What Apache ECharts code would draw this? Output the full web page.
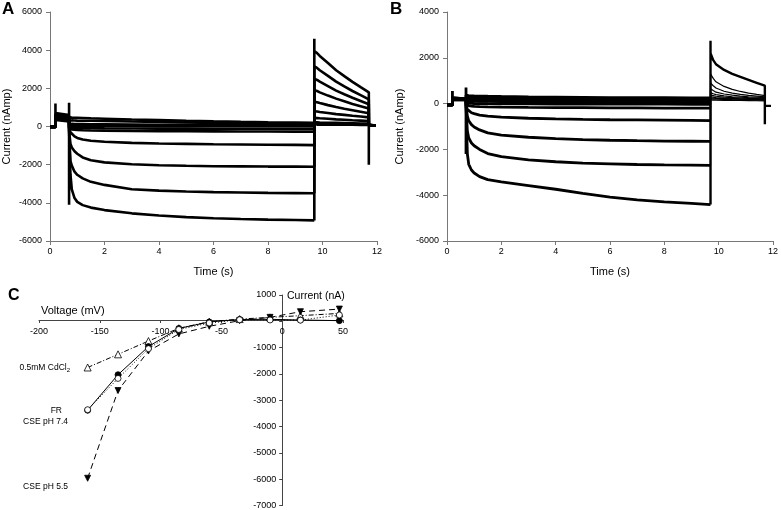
<!DOCTYPE html>
<html><head><meta charset="utf-8">
<script src="https://cdn.jsdelivr.net/npm/echarts@6/dist/echarts.min.js"></script>
<style>html,body{margin:0;padding:0;background:#fff}#c{width:781px;height:510px}</style>
</head><body><div id="c"></div>
<script>
// ---------- shared time grids (s) ----------
const timeTest = [0.7, 0.75, 0.8, 0.9, 1.0, 1.2, 1.5, 2, 3, 4, 5, 6, 7, 8, 9, 9.7];
const timeTail = [9.7, 9.8, 9.9, 10.2, 10.5, 10.8, 11.1, 11.4, 11.7];

// ---------- Panel A ----------
const aHold = -20;
const aPost = 40;
const aEnd = 11.95;
const aSpikes = [1200, 1250, -4100, 4600, -2000]; // at 0.2, 0.7, 0.7, 9.7, 11.7
const aPre = [[700,600],[650,560],[620,520],[580,480],[540,440],[500,400],[460,360],[420,330],[380,300],[340,270]];
const aTest = [
  [-300,-2500,-3300,-3750,-3950,-4120,-4250,-4380,-4550,-4660,-4750,-4810,-4850,-4880,-4900,-4920],
  [-300,-1800,-2050,-2370,-2530,-2720,-2900,-3060,-3290,-3360,-3410,-3440,-3460,-3480,-3490,-3500],
  [-200,-900,-1100,-1300,-1430,-1620,-1770,-1880,-1980,-2030,-2060,-2080,-2090,-2100,-2100,-2110],
  [-100,-300,-400,-520,-600,-680,-750,-800,-860,-890,-910,-930,-940,-955,-965,-975],
  [-50,-120,-150,-170,-180,-195,-210,-220,-235,-245,-250,-255,-260,-265,-268,-270],
  [-40,-60,-70,-80,-85,-90,-95,-100,-105,-110,-112,-115,-118,-120,-120,-120],
  [60,50,45,40,38,35,32,30,25,20,18,15,12,10,10,10],
  [150,140,135,130,128,125,120,115,105,95,88,80,75,70,65,60],
  [480,470,465,460,455,445,430,410,370,335,300,270,245,225,210,200],
  [330,325,320,315,310,305,300,290,260,235,210,190,170,155,140,130]
];
const aTail = [
  [3950,3850,3700,3330,2950,2640,2340,2060,1790],
  [3150,3070,2950,2650,2350,2100,1860,1640,1420],
  [2500,2440,2350,2120,1880,1690,1510,1340,1170],
  [1900,1860,1790,1620,1460,1320,1180,1060,940],
  [1300,1270,1230,1120,1020,930,850,770,690],
  [800,785,760,710,650,610,560,520,480],
  [450,440,430,405,375,355,330,310,290],
  [220,215,210,200,190,180,170,160,150],
  [150,150,145,140,135,130,125,120,115],
  [100,100,100,95,95,90,90,85,85]
];

// ---------- Panel B ----------
const bHold = -60;
const bPost = -100;
const bEnd = 11.92;
const bSpikes = [550, 700, -2200, 2750, -900];
const bPre = [[260,210],[250,200],[240,195],[230,190],[220,185],[210,180],[200,175],[190,170],[180,165],[170,160]];
const bTest = [
  [-300,-2200,-2650,-2900,-3030,-3190,-3320,-3420,-3580,-3740,-3920,-4080,-4200,-4290,-4360,-4410],
  [-200,-1200,-1500,-1720,-1840,-2000,-2180,-2320,-2460,-2540,-2600,-2630,-2660,-2680,-2690,-2700],
  [-100,-550,-750,-920,-1020,-1150,-1280,-1380,-1470,-1530,-1570,-1600,-1620,-1635,-1645,-1650],
  [-50,-250,-330,-400,-440,-500,-550,-590,-640,-670,-690,-705,-715,-725,-735,-740],
  [0,-60,-90,-110,-120,-130,-140,-150,-165,-175,-180,-185,-190,-195,-198,-200],
  [80,40,20,10,5,0,-5,-10,-15,-20,-20,-25,-25,-25,-30,-30],
  [150,130,120,110,105,100,95,90,85,80,80,75,75,70,70,70],
  [220,200,190,180,175,170,165,160,150,145,140,135,130,130,125,125],
  [280,270,265,260,255,250,245,240,230,220,210,205,200,195,190,190],
  [370,360,350,340,335,330,320,310,295,285,275,265,260,255,250,250]
];
const bTail = [
  [2200,1900,1720,1470,1300,1170,1040,910,780],
  [1300,1100,950,750,620,530,460,400,350],
  [900,780,680,540,460,400,360,330,300],
  [650,570,500,420,370,330,300,280,260],
  [480,430,390,340,300,280,260,245,230],
  [380,350,320,280,260,240,225,215,205],
  [300,280,260,240,225,210,200,190,185],
  [250,240,230,215,200,190,180,175,170],
  [200,195,190,180,170,165,160,155,150],
  [160,155,150,145,140,135,130,125,120]
];

// ---------- Panel C (I-V) ----------
const voltage = [-160, -135, -110, -85, -60, -35, -10, 15, 47];
const ivFR = [-3380, -2030, -960, -270, -25, 70, 75, 50, 25];
const ivCSE74 = [-3360, -2170, -1040, -310, -65, 60, 50, 45, 240];
const ivCSE55 = [-5965, -2630, -1130, -480, -190, 25, 150, 365, 465];
const ivCd = [-1755, -1255, -750, -265, -15, 85, 150, 215, 300];

// main part of a sweep: holding, prepulse, test pulse
function buildMain(hold, pre, test, spikes) {
  const d = [[0, hold], [0.2, hold]];
  if (spikes) d.push([0.2, spikes[0]]);
  d.push([0.2, pre[0]], [0.7, pre[1]]);
  if (spikes) d.push([0.7, spikes[1]], [0.7, spikes[2]]);
  timeTest.forEach((t, i) => d.push([t, test[i]]));
  return d;
}
// tail part of a sweep: from test end through tail and back to holding
function buildTail(testEnd, tail, post, tEnd, spikes) {
  const d = [[9.7, testEnd]];
  if (spikes) d.push([9.7, spikes[3]]);
  timeTail.forEach((t, i) => d.push([t, tail[i]]));
  if (spikes) d.push([11.7, spikes[4]]);
  d.push([11.7, post], [tEnd, post]);
  return d;
}

const FONT = "'Liberation Sans', Arial, sans-serif";
const plain = v => String(v);
const series = [];
function addLine(xi, data, width) {
  series.push({
    type: 'line', xAxisIndex: xi, yAxisIndex: xi, showSymbol: false, silent: true,
    data: data, lineStyle: { color: '#000', width: width }
  });
}
aTest.forEach((t, i) => {
  const sp = i === 0 ? aSpikes : null;
  addLine(0, buildMain(aHold, aPre[i], t, sp), 2.6);
  addLine(0, buildTail(t[t.length - 1], aTail[i], aPost, aEnd, sp), 2.6);
});
bTest.forEach((t, i) => {
  const sp = i === 0 ? bSpikes : null;
  addLine(1, buildMain(bHold, bPre[i], t, sp), 2.8);
  addLine(1, buildTail(t[t.length - 1], bTail[i], bPost, bEnd, sp), i === 0 ? 2.4 : 1.2);
});
const ivSeries = [
  { vals: ivCd, symbol: 'triangle', fill: '#fff', size: 7, rot: 0, type: [5, 2, 1, 2] },
  { vals: ivCSE55, symbol: 'triangle', fill: '#000', size: 6, rot: 180, type: [6, 4] },
  { vals: ivFR, symbol: 'circle', fill: '#000', size: 6, rot: 0, type: 'solid' },
  { vals: ivCSE74, symbol: 'circle', fill: '#fff', size: 6, rot: 0, type: [1, 2] }
];
ivSeries.forEach(s => series.push({
  type: 'line', xAxisIndex: 2, yAxisIndex: 2, silent: true,
  data: voltage.map((v, i) => [v, s.vals[i]]),
  symbol: s.symbol, symbolSize: s.size, symbolRotate: s.rot, showAllSymbol: true,
  itemStyle: { color: s.fill, borderColor: '#000', borderWidth: 0.8 },
  lineStyle: { color: '#000', width: 1, type: s.type }
}));

function timeAxis(g) {
  return {
    gridIndex: g, type: 'value', min: 0, max: 12, interval: 2,
    axisLine: { onZero: false, lineStyle: { color: '#777', width: 1 } },
    axisTick: { show: true, length: 4, lineStyle: { color: '#777' } },
    splitLine: { show: false },
    axisLabel: { color: '#000', fontSize: 9, fontFamily: FONT, margin: 6, formatter: plain },
    name: 'Time (s)', nameLocation: 'middle', nameGap: 25,
    nameTextStyle: { color: '#000', fontSize: 11, fontFamily: FONT }
  };
}
function currAxis(g, min, max, gap) {
  return {
    gridIndex: g, type: 'value', min: min, max: max, interval: 2000,
    axisLine: { show: true, onZero: false, lineStyle: { color: '#777', width: 1 } },
    axisTick: { show: true, length: 4, lineStyle: { color: '#777' } },
    splitLine: { show: false },
    axisLabel: { color: '#000', fontSize: 9, fontFamily: FONT, margin: 8, formatter: plain },
    name: 'Current (nAmp)', nameLocation: 'middle', nameGap: gap, nameRotate: 90,
    nameTextStyle: { color: '#000', fontSize: 11, fontFamily: FONT }
  };
}

// Panel C grid geometry (axes cross at V=0, I=0)
const cGrid = { left: 39, top: 295, width: 304, height: 212 };
const cXmin = -200, cXmax = 50, cYmin = -7000, cYmax = 1000;
const cXoff = -cGrid.height * (0 - cYmin) / (cYmax - cYmin);
const cYoff = -cGrid.width * (0 - cXmin) / (cXmax - cXmin);

const option = {
  animation: false,
  backgroundColor: '#fff',
  grid: [
    { left: 50, top: 12, width: 327, height: 229 },
    { left: 447, top: 12, width: 328, height: 229 },
    cGrid
  ],
  xAxis: [
    timeAxis(0), timeAxis(1),
    {
      gridIndex: 2, type: 'value', min: cXmin, max: cXmax, interval: 50,
      position: 'bottom', offset: cXoff,
      axisLine: { onZero: false, lineStyle: { color: '#444', width: 1 } },
      axisTick: { show: true, length: 3, lineStyle: { color: '#444' } },
      splitLine: { show: false },
      axisLabel: { color: '#000', fontSize: 9, fontFamily: FONT, margin: 7, formatter: plain }
    }
  ],
  yAxis: [
    currAxis(0, -6000, 6000, 38), currAxis(1, -6000, 4000, 42),
    {
      gridIndex: 2, type: 'value', min: cYmin, max: cYmax, interval: 1000,
      position: 'left', offset: cYoff,
      axisLine: { show: true, onZero: false, lineStyle: { color: '#444', width: 1 } },
      axisTick: { show: true, length: 3, lineStyle: { color: '#444' } },
      splitLine: { show: false },
      axisLabel: { color: '#000', fontSize: 9, fontFamily: FONT, margin: 6,
        formatter: v => (v === 0 ? '' : String(v)) }
    }
  ],
  graphic: [
    { type: 'text', left: 2, top: 1, style: { text: 'A', font: 'bold 17px ' + FONT, fill: '#000' } },
    { type: 'text', left: 390, top: 1, style: { text: 'B', font: 'bold 17px ' + FONT, fill: '#000' } },
    { type: 'text', left: 8, top: 288, style: { text: 'C', font: 'bold 16px ' + FONT, fill: '#000' } },
    { type: 'text', left: 41, top: 305, style: { text: 'Voltage (mV)', font: '11px ' + FONT, fill: '#000' } },
    { type: 'text', left: 287, top: 291, style: { text: 'Current (nA)', font: '10.5px ' + FONT, fill: '#000' } },
    { type: 'text', right: 781 - 70, top: 363, style: {
        text: '0.5mM CdCl{s|2}', font: '8.5px ' + FONT, fill: '#000',
        rich: { s: { fontSize: 6, fontFamily: 'Liberation Sans', padding: [5, 0, 0, 0] } } } },
    { type: 'text', right: 781 - 62, top: 406, style: { text: 'FR', font: '8.5px ' + FONT, fill: '#000' } },
    { type: 'text', right: 781 - 68, top: 417, style: { text: 'CSE pH 7.4', font: '8.5px ' + FONT, fill: '#000' } },
    { type: 'text', right: 781 - 68, top: 482, style: { text: 'CSE pH 5.5', font: '8.5px ' + FONT, fill: '#000' } }
  ],
  series: series
};
const chart = echarts.init(document.getElementById('c'), null, { renderer: 'canvas' });
chart.setOption(option);
</script></body></html>
